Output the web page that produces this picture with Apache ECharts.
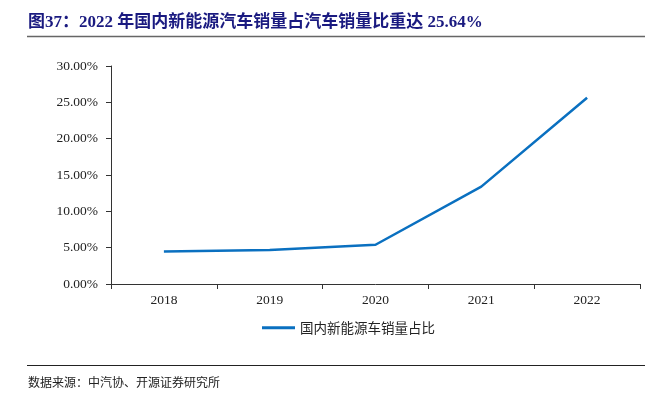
<!DOCTYPE html>
<html><head><meta charset="utf-8">
<script src="https://cdn.jsdelivr.net/npm/echarts@6/dist/echarts.min.js"></script>
<style>html,body{margin:0;padding:0;background:#fff}#c{width:671px;height:396px}</style>
</head><body><div id="c"></div>
<script>
var categories = ['2018','2019','2020','2021','2022'];
var shareValues = [4.47, 4.68, 5.40, 13.40, 25.64];
var seriesName = '国内新能源车销量占比';
var titleText = '图37：2022 年国内新能源汽车销量占汽车销量比重达 25.64%';
var sourceText = '数据来源：中汽协、开源证券研究所';

var chart = echarts.init(document.getElementById('c'));
chart.setOption({
  animation: false,
  backgroundColor: '#fff',
  grid: {left: 111, right: 31, top: 66, bottom: 112},
  legend: {
    data: [seriesName], top: 316, left: 257, itemWidth: 33, itemHeight: 3, itemGap: 10,
    icon: 'rect',
    textStyle: {fontFamily: 'Noto Sans CJK SC', fontSize: 13.5, color: '#222'}
  },
  xAxis: {
    type: 'category', data: categories, boundaryGap: true,
    axisLine: {lineStyle: {color: '#333', width: 1}},
    axisTick: {show: true, inside: false, length: 5, lineStyle: {color: '#333'}},
    axisLabel: {fontFamily: 'Liberation Serif', fontSize: 13.5, color: '#222', margin: 9}
  },
  yAxis: {
    type: 'value', min: 0, max: 30, interval: 5,
    axisLine: {show: true, lineStyle: {color: '#333', width: 1}},
    axisTick: {show: true, length: 5, lineStyle: {color: '#333'}},
    splitLine: {show: false},
    axisLabel: {fontFamily: 'Liberation Serif', fontSize: 13.5, color: '#222', margin: 13,
      formatter: function(v){ return v.toFixed(2) + '%'; }}
  },
  series: [{
    name: seriesName, type: 'line', data: shareValues, symbol: 'none',
    lineStyle: {color: '#0a70c0', width: 2.5}, itemStyle: {color: '#0a70c0'}
  }],
  graphic: [
    {type: 'text', left: 28, top: 14, style: {text: titleText, fill: '#1a1a80',
      font: 'bold 17px "Liberation Serif", "Noto Sans CJK SC"'}},
    {type: 'line', shape: {x1: 27, y1: 36.5, x2: 645, y2: 36.5}, style: {stroke: '#666', lineWidth: 1.5}},
    {type: 'line', shape: {x1: 27, y1: 365.5, x2: 645, y2: 365.5}, style: {stroke: '#222', lineWidth: 1}},
    {type: 'text', left: 28, top: 376, style: {text: sourceText, fill: '#222',
      font: '12px "Noto Sans CJK SC"'}}
  ]
});
</script></body></html>
